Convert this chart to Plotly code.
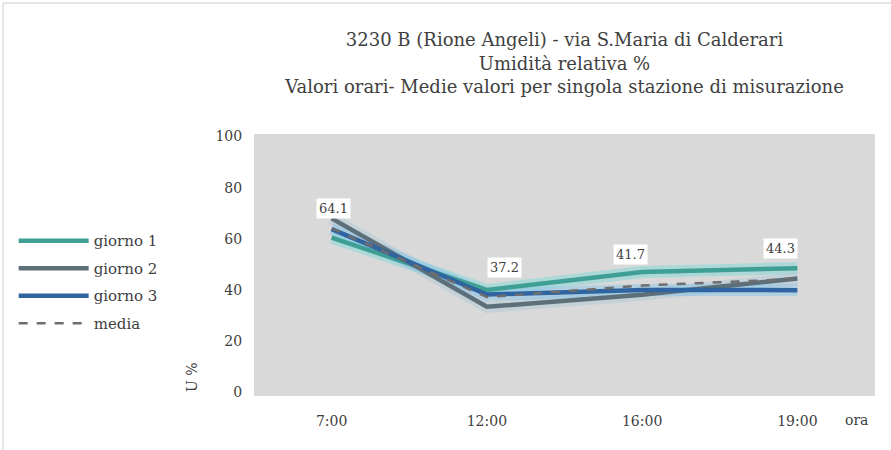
import plotly.graph_objects as go

# Orari di misurazione
ore = ["7:00", "12:00", "16:00", "19:00"]

# Umidità relativa % per giorno di misurazione
giorno_1 = [60.5, 40.0, 47.0, 48.5]
giorno_2 = [68.0, 33.4, 38.1, 44.5]
giorno_3 = [63.8, 38.2, 40.0, 39.9]
media = [64.1, 37.2, 41.7, 44.3]

# spostamento (px) delle etichette dei valori medi rispetto al punto
etichette_dx = [2, 18, -12, -17]
etichette_dy = [20, 30, 31, 30]

serie = [
    ("giorno 1", giorno_1, "#3f9f95", "rgba(120,215,215,0.45)"),
    ("giorno 2", giorno_2, "#5d6f78", "rgba(170,200,215,0.45)"),
    ("giorno 3", giorno_3, "#2f64a0", "rgba(130,195,235,0.45)"),
]

serif = "DejaVu Serif"
testo = "#404040"
fig = go.Figure()

# alone chiaro sotto ciascuna linea
for nome, vals, col, alone in serie:
    fig.add_trace(go.Scatter(x=ore, y=vals, mode="lines", showlegend=False,
                             hoverinfo="skip",
                             line=dict(color=alone, width=12)))

for nome, vals, col, alone in serie:
    fig.add_trace(go.Scatter(x=ore, y=vals, mode="lines", name=nome,
                             legendgroup=nome,
                             line=dict(color=col, width=4.5)))

fig.add_trace(go.Scatter(x=ore, y=media, mode="lines", name="media",
                         legendgroup="media",
                         line=dict(color="#6e6e6e", width=2.5, dash="dash")))

# etichette dei valori medi
for o, v, dx, dy in zip(ore, media, etichette_dx, etichette_dy):
    fig.add_annotation(x=o, y=v, text=f"{v:.1f}", showarrow=False,
                       xshift=dx, yshift=dy, bgcolor="white", borderpad=2,
                       font=dict(family=serif, size=13, color=testo))

fig.add_annotation(x=1.0, xref="paper", y=0, yref="paper", text="ora",
                   showarrow=False, xanchor="left", yanchor="top",
                   xshift=-32, yshift=-14,
                   font=dict(family=serif, size=14, color=testo))
fig.add_annotation(x=0, xref="paper", y=0, yref="paper", text="U %",
                   textangle=-90, showarrow=False, xanchor="right",
                   yanchor="bottom", xshift=-52, yshift=2,
                   font=dict(family=serif, size=14, color=testo))

fig.update_layout(
    width=891, height=450,
    paper_bgcolor="white", plot_bgcolor="#d9d9d9",
    margin=dict(l=254, r=16, t=134, b=54),
    title=dict(
        text=("3230 B (Rione Angeli) - via S.Maria di Calderari<br>"
              "Umidità relativa %<br>"
              "Valori orari- Medie valori per singola stazione di misurazione"),
        xref="paper", x=0.5, xanchor="center", y=0.897, yanchor="top",
        font=dict(family=serif, size=18, color=testo)),
    legend=dict(x=-0.387, xanchor="left", y=0.655, yanchor="top",
                font=dict(family=serif, size=15, color=testo),
                itemwidth=70, tracegroupgap=5, bgcolor="rgba(0,0,0,0)"),
    font=dict(family=serif, size=14, color=testo),
    shapes=[
        dict(type="line", xref="paper", yref="paper",
             x0=-0.404, x1=1.026, y0=1.5, y1=1.5,
             line=dict(color="#e6e6e6", width=2), layer="below"),
        dict(type="line", xref="paper", yref="paper",
             x0=-0.404, x1=-0.404, y0=-0.21, y1=1.5,
             line=dict(color="#e6e6e6", width=2), layer="below"),
    ],
)

fig.update_xaxes(type="category", range=[-0.5, 3.5], showgrid=False,
                 ticks="outside", ticklen=12, tickcolor="rgba(0,0,0,0)",
                 showline=False, tickfont=dict(family=serif, size=14))
fig.update_yaxes(range=[-1.5, 101], tickvals=[0, 20, 40, 60, 80, 100],
                 showgrid=False, zeroline=False, showline=False,
                 ticks="outside", ticklen=8, tickcolor="rgba(0,0,0,0)",
                 tickfont=dict(family=serif, size=14))

fig.write_html("out.html")
